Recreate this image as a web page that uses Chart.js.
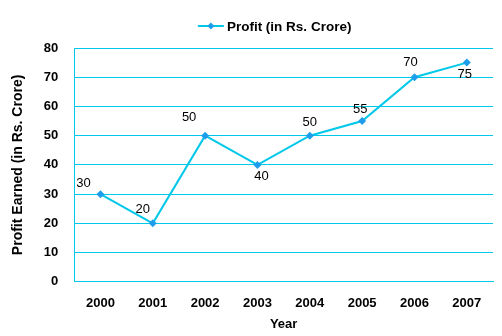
<!DOCTYPE html>
<html>
<head>
<meta charset="utf-8">
<script src="https://cdn.jsdelivr.net/npm/chart.js@4/dist/chart.umd.min.js"></script>
<style>
  html, body { margin: 0; padding: 0; background: #fff; }
  #wrap { width: 502px; height: 336px; }
</style>
</head>
<body>
<div id="wrap"><canvas id="myChart" width="502" height="336"></canvas></div>
<script>
// chart data
var years = ["2000", "2001", "2002", "2003", "2004", "2005", "2006", "2007"];
var profit = [30, 20, 50, 40, 50, 55, 70, 75];
var yTicks = [0, 10, 20, 30, 40, 50, 60, 70, 80];
var seriesName = "Profit (in Rs. Crore)";

// where each value label sits relative to its point
var labelShift = [[-17, -11], [-10, -14], [-16, -18], [4, 12], [0, -13], [-2, -12], [-4, -15], [-2, 12]];

var cyan = "#00C8E8";
var marker = "#1E9EEA";
var font = "'Liberation Sans', Arial, sans-serif";

function diamond(ctx, cx, cy, r) {
  ctx.beginPath();
  ctx.moveTo(cx, cy - r);
  ctx.lineTo(cx + r, cy);
  ctx.lineTo(cx, cy + r);
  ctx.lineTo(cx - r, cy);
  ctx.closePath();
  ctx.fill();
}

// value labels + a legend drawn by hand (line with diamond, then the name)
var extras = {
  id: "extras",
  afterDatasetsDraw: function (chart) {
    var ctx = chart.ctx;
    var meta = chart.getDatasetMeta(0);
    ctx.save();
    ctx.fillStyle = "#000";
    ctx.font = "13px " + font;
    ctx.textAlign = "center";
    ctx.textBaseline = "middle";
    meta.data.forEach(function (pt, i) {
      ctx.fillText(String(profit[i]), pt.x + labelShift[i][0], pt.y + labelShift[i][1]);
    });
    ctx.restore();
  },
  afterDraw: function (chart) {
    var ctx = chart.ctx;
    var area = chart.chartArea;
    ctx.save();
    ctx.font = "bold 13.5px " + font;
    var tw = ctx.measureText(seriesName).width;
    var total = 26 + 3 + tw;
    var x0 = (area.left + area.right) / 2 - 9 - total / 2;
    var cy = 26;
    ctx.strokeStyle = cyan;
    ctx.lineWidth = 2;
    ctx.beginPath();
    ctx.moveTo(x0, cy);
    ctx.lineTo(x0 + 26, cy);
    ctx.stroke();
    ctx.fillStyle = marker;
    diamond(ctx, x0 + 13, cy, 3.5);
    ctx.fillStyle = "#000";
    ctx.textAlign = "left";
    ctx.textBaseline = "middle";
    ctx.fillText(seriesName, x0 + 29, cy + 1);
    ctx.restore();
  }
};

var ctx = document.getElementById("myChart").getContext("2d");
var myChart = new Chart(ctx, {
  type: "line",
  data: {
    labels: years,
    datasets: [
      {
        label: seriesName,
        data: profit,
        borderColor: cyan,
        backgroundColor: marker,
        borderWidth: 2,
        pointStyle: "rectRot",
        pointRadius: 4,
        pointBackgroundColor: marker,
        pointBorderColor: marker,
        pointBorderWidth: 0,
        tension: 0,
      },
    ],
  },
  options: {
    responsive: false,
    animation: false,
    layout: { padding: { left: 10, right: 9, top: 48, bottom: 4 } },
    plugins: {
      legend: { display: false },
      tooltip: { enabled: false },
    },
    scales: {
      x: {
        offset: true,
        grid: { display: false, drawTicks: false },
        border: { display: true, color: cyan, width: 1 },
        ticks: {
          color: "#000",
          padding: 14,
          maxRotation: 0,
          font: { family: font, size: 13, weight: "bold" },
        },
        title: {
          display: true,
          text: "Year",
          color: "#000",
          padding: { top: -9, bottom: 0 },
          font: { family: font, size: 13, weight: "bold" },
        },
      },
      y: {
        min: 0,
        max: 80,
        afterBuildTicks: function (axis) {
          axis.ticks = yTicks.map(function (v) { return { value: v }; });
        },
        grid: { color: cyan, lineWidth: 1, drawTicks: false },
        border: { display: true, color: cyan, width: 1 },
        ticks: {
          color: "#000",
          padding: 16,
          font: { family: font, size: 13, weight: "bold" },
        },
        title: {
          display: true,
          text: "Profit Earned (in Rs. Crore)",
          color: "#000",
          padding: { top: 0, bottom: 1 },
          font: { family: font, size: 14, weight: "bold" },
        },
      },
    },
  },
  plugins: [extras],
});
</script>
</body>
</html>
